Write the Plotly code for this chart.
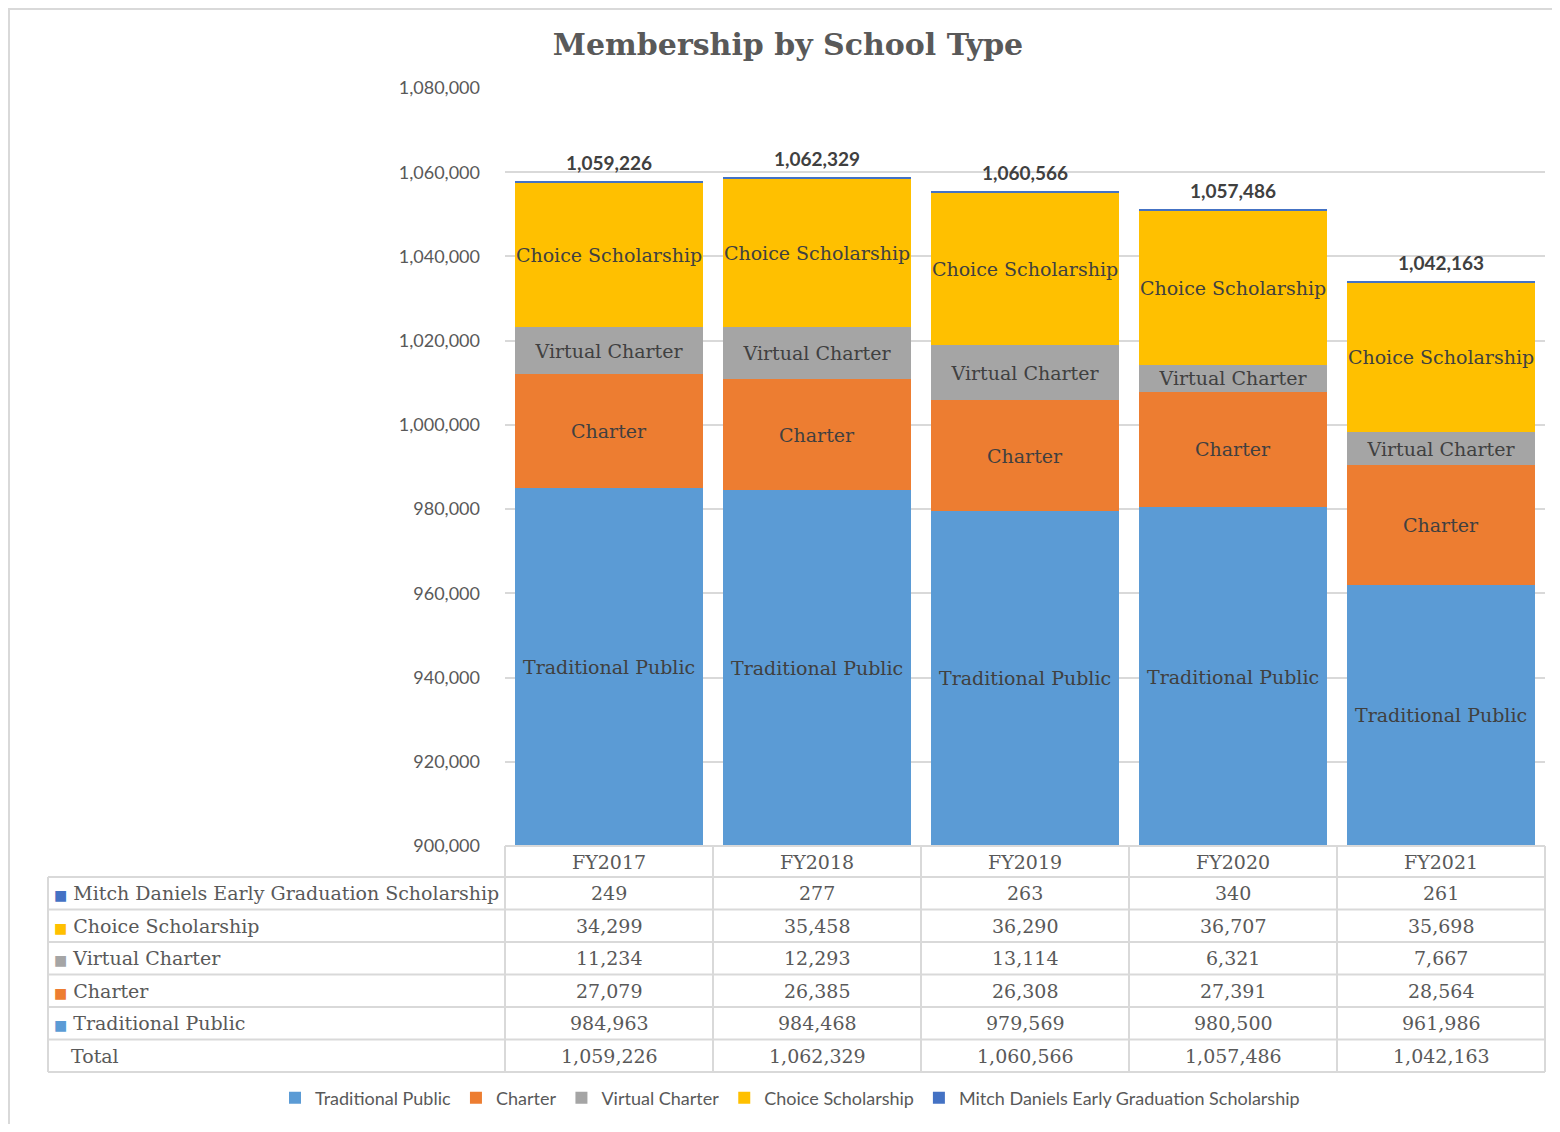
import plotly.graph_objects as go

years = ['FY2017', 'FY2018', 'FY2019', 'FY2020', 'FY2021']
traditional = [984963, 984468, 979569, 980500, 961986]
charter = [27079, 26385, 26308, 27391, 28564]
virtual = [11234, 12293, 13114, 6321, 7667]
choice = [34299, 35458, 36290, 36707, 35698]
mitch = [249, 277, 263, 340, 261]
totals = [1059226, 1062329, 1060566, 1057486, 1042163]

series = [
    ('Traditional Public', traditional, '#5B9BD5'),
    ('Charter', charter, '#ED7D31'),
    ('Virtual Charter', virtual, '#A5A5A5'),
    ('Choice Scholarship', choice, '#FFC000'),
    ('Mitch Daniels Early Graduation Scholarship', mitch, '#4472C4'),
]
labelled = ['Charter', 'Virtual Charter', 'Choice Scholarship']

# page body adds 8px around the figure
W, H = 1544, 1116
L, R, T, B = 497, 7, 80, 278
PW, PH = W - L - R, H - T - B
Y_MIN, Y_MAX = 900000, 1080000

SERIF = 'DejaVu Serif'
SANS = 'Lato'
GRID = '#d9d9d9'
bar_font = dict(family=SERIF, size=19, color='#404040')

fig = go.Figure()
for name, vals, color in series:
    show = name in labelled
    fig.add_trace(go.Bar(
        x=years, y=vals, name=name, marker_color=color, marker_line_width=0,
        text=[name] * len(vals) if show else None,
        texttemplate='%{text}' if show else None,
        textposition='inside' if show else 'none',
        insidetextanchor='middle', textangle=0, constraintext='none',
        insidetextfont=bar_font, hoverinfo='x+y+name'))

bar_tops = [sum(v) for v in zip(traditional, charter, virtual, choice, mitch)]

annotations = []
# bottom segment label sits in the middle of the visible part
for yr, v in zip(years, traditional):
    annotations.append(dict(x=yr, y=(Y_MIN + v) / 2, xref='x', yref='y', showarrow=False,
                            text='Traditional Public', font=bar_font))
for yr, top, tot in zip(years, bar_tops, totals):
    annotations.append(dict(x=yr, y=top, xref='x', yref='y', yanchor='bottom', yshift=5,
                            text=f'<b>{tot:,}</b>', showarrow=False,
                            font=dict(family=SANS, size=19, color='#404040')))

# data table under the chart
header_h = 31 / PH
row_h = 32.5 / PH
left_x = -(L - 40) / PW
line = dict(color=GRID, width=2)
shapes = []
shapes.append(dict(type='line', xref='paper', yref='paper', x0=0, x1=1, y0=0, y1=0, line=line))
rows_bottom = -header_h - 6 * row_h
for k in range(7):
    y = -header_h - k * row_h
    shapes.append(dict(type='line', xref='paper', yref='paper', x0=left_x, x1=1, y0=y, y1=y, line=line))
for i in range(6):
    x = i / 5
    shapes.append(dict(type='line', xref='paper', yref='paper', x0=x, x1=x, y0=0, y1=rows_bottom, line=line))
shapes.append(dict(type='line', xref='paper', yref='paper', x0=left_x, x1=left_x, y0=-header_h,
                   y1=rows_bottom, line=line))
# chart area border (only left and top edges show)
shapes.append(dict(type='rect', xref='paper', yref='paper',
                   x0=-(L - 1) / PW, x1=1 + 40 / PW, y0=1 + (T - 1) / PH, y1=-(B + 40) / PH,
                   line=dict(color=GRID, width=2), layer='below'))

tfont = dict(family=SERIF, size=19, color='#595959')
for i, yr in enumerate(years):
    annotations.append(dict(x=(i + 0.5) / 5, y=-header_h / 2, xref='paper', yref='paper',
                            xanchor='center', yanchor='middle',
                            text=yr, showarrow=False, font=tfont))

table_rows = [(name, vals, color) for name, vals, color in reversed(series)]
table_rows.append(('Total', totals, None))
for k, (name, vals, color) in enumerate(table_rows):
    yc = -header_h - (k + 0.5) * row_h
    if color:
        label = f'<span style="color:{color};font-size:14px">■</span> ' + name
        lx = left_x + 4 / PW
    else:
        label = name
        lx = left_x + 21 / PW
    annotations.append(dict(x=lx, y=yc, xref='paper', yref='paper', xanchor='left', yanchor='middle',
                            text=label, showarrow=False, font=tfont))
    for i, v in enumerate(vals):
        annotations.append(dict(x=(i + 0.5) / 5, y=yc, xref='paper', yref='paper',
                                xanchor='center', yanchor='middle',
                                text=f'{v:,}', showarrow=False, font=tfont))

fig.update_layout(
    width=W, height=H, margin=dict(l=L, r=R, t=T, b=B),
    barmode='stack', bargap=0.096,
    plot_bgcolor='white', paper_bgcolor='white',
    uniformtext=dict(minsize=19, mode='show'),
    title=dict(text='<b>Membership by School Type</b>', x=780 / W, xanchor='center',
               y=1 - 36 / H, yanchor='middle',
               font=dict(family=SERIF, size=30, color='#595959')),
    xaxis=dict(showticklabels=False, ticks='', showgrid=False, zeroline=False,
               range=[-0.5, 4.5]),
    yaxis=dict(range=[Y_MIN, Y_MAX], dtick=20000, tickformat=',', showgrid=True,
               gridcolor=GRID, gridwidth=2, zeroline=False, showline=False,
               ticklabelstandoff=24, tickfont=dict(family=SANS, size=18, color='#595959')),
    legend=dict(orientation='h', x=(790 - 505) / PW, xanchor='center',
                y=(846 - 1098) / PH, yanchor='middle',
                traceorder='normal', itemwidth=30,
                font=dict(family=SANS, size=18, color='#595959')),
    shapes=shapes, annotations=annotations,
)

fig.write_html('out.html')
